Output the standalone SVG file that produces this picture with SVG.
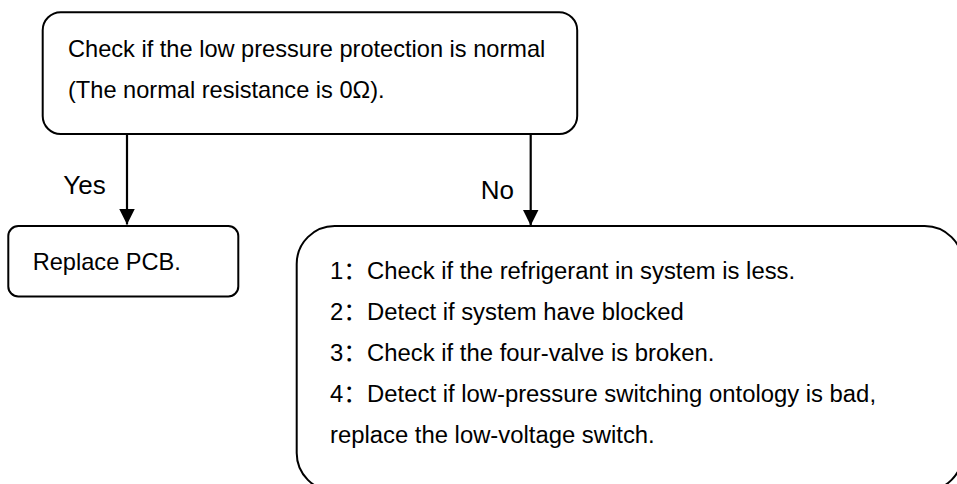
<svg xmlns="http://www.w3.org/2000/svg" width="957" height="484" viewBox="0 0 957 484">
<style>
.box{fill:#fff;stroke:#000;stroke-width:2}
.t{font-family:"Liberation Sans","Noto Sans CJK SC",Arial,sans-serif;font-size:23.6px;fill:#000}
.t2{font-size:23.85px}
.lbl{font-family:"Liberation Sans",Arial,sans-serif;font-size:26px;fill:#000}
.edge{stroke:#000;stroke-width:2.2;fill:none}
</style>
<defs>
<marker id="ah" markerUnits="userSpaceOnUse" markerWidth="18" markerHeight="16" refX="16" refY="8" orient="auto">
<path d="M0,0 L16,8 L0,16 Z" fill="#000"/>
</marker>
</defs>
<rect width="957" height="484" fill="#fff"/>
<g id="node-check">
<rect class="box" x="42.7" y="12.3" width="534.5" height="121.7" rx="18" ry="18"/>
<text class="t" x="68" y="56.5">Check if the low pressure protection is normal</text>
<text class="t" x="68" y="97.5">(The normal resistance is 0Ω).</text>
</g>
<g id="node-replace">
<rect class="box" x="8.3" y="226" width="230" height="70.5" rx="10" ry="10"/>
<text class="t" x="32.7" y="270">Replace PCB.</text>
</g>
<g id="node-steps">
<rect class="box" x="296.7" y="226" width="666" height="265" rx="38" ry="38"/>
<text class="t t2" x="330" y="279.3">1：Check if the refrigerant in system is less.</text>
<text class="t t2" x="330" y="320.3">2：Detect if system have blocked</text>
<text class="t t2" x="330" y="361.3">3：Check if the four-valve is broken.</text>
<text class="t t2" x="330" y="402.3">4：Detect if low-pressure switching ontology is bad,</text>
<text class="t t2" x="330" y="443.3">replace the low-voltage switch.</text>
</g>
<g id="connectors">
<line class="edge" x1="127" y1="134" x2="127" y2="224.5" marker-end="url(#ah)"/>
<text class="lbl" x="63.3" y="194.3">Yes</text>
<line class="edge" x1="530.7" y1="134" x2="530.7" y2="225.5" marker-end="url(#ah)"/>
<text class="lbl" x="480.7" y="199.3">No</text>
</g>
</svg>
